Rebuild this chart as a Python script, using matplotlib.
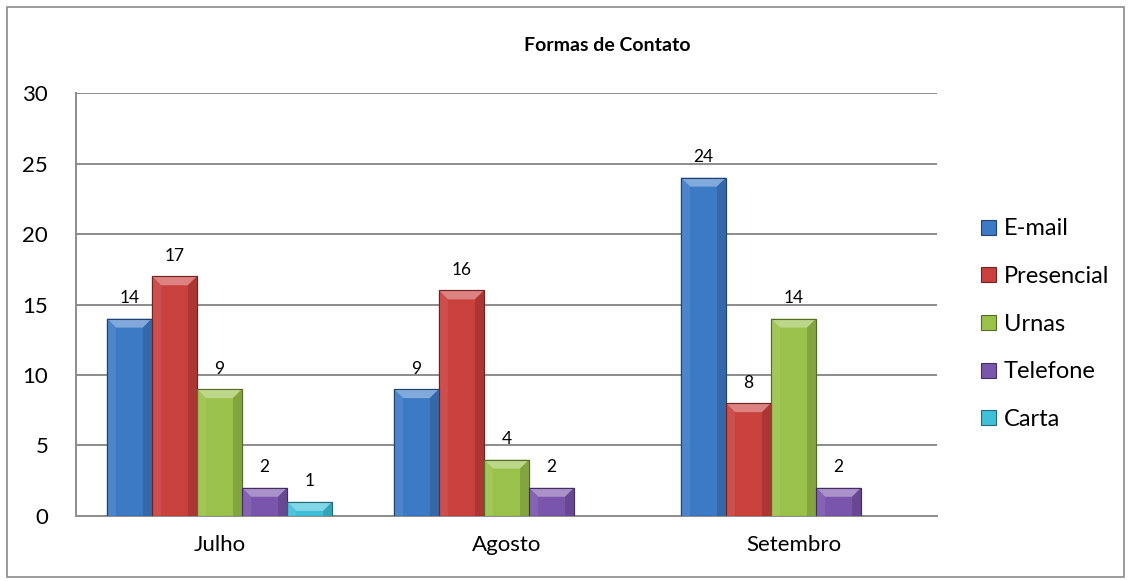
import numpy as np
import matplotlib.pyplot as plt
from matplotlib.patches import Polygon, Rectangle
from matplotlib import colors as mcolors

plt.rcParams['font.family'] = ['Lato', 'DejaVu Sans']

months = ['Julho', 'Agosto', 'Setembro']
series_names = ['E-mail', 'Presencial', 'Urnas', 'Telefone', 'Carta']
email = [14, 9, 24]
presencial = [17, 16, 8]
urnas = [9, 4, 14]
telefone = [2, 2, 2]
carta = [1, np.nan, np.nan]
yticks = [0, 5, 10, 15, 20, 25, 30]

values = [email, presencial, urnas, telefone, carta]
bar_colors = ['#3d7ac6', '#c9403d', '#9ac24b', '#7a55ac', '#3fc0d8']


def shade(c, amount):
    # amount > 0 lightens, < 0 darkens
    rgb = np.array(mcolors.to_rgb(c))
    if amount > 0:
        rgb = rgb + (1 - rgb) * amount
    else:
        rgb = rgb * (1 + amount)
    return tuple(rgb)


fig = plt.figure(figsize=(11.31, 5.81), dpi=100)
ax = fig.add_axes([0.0672, 0.1119, 0.7613, 0.728])

# outer chart border
fig.patches.append(Rectangle((0.006, 0.007), 0.988, 0.981, transform=fig.transFigure,
                             fill=False, edgecolor='#8a8a8a', linewidth=1.2))

x = np.arange(len(months))
w = 0.157
# bevel size in data units (about 9 px)
dx = 9 / (0.7613 * 1131 / 3)
dy = 9 / (0.728 * 581 / 30)

for i, (name, vals, col) in enumerate(zip(series_names, values, bar_colors)):
    pos = x + (i - 2) * w
    bars = ax.bar(pos, vals, width=w, color=col, edgecolor=shade(col, -0.45),
                  linewidth=0.8, label=name, zorder=3)
    for rect, v in zip(bars, vals):
        if np.isnan(v):
            continue
        x0 = rect.get_x()
        h = rect.get_height()
        # top bevel
        ax.add_patch(Polygon([(x0, h), (x0 + w, h), (x0 + w - dx, h - dy), (x0 + dx, h - dy)],
                             closed=True, facecolor=shade(col, 0.35), edgecolor='none', zorder=4))
        # side bevels
        ax.add_patch(Polygon([(x0, h), (x0 + dx, h - dy), (x0 + dx, 0), (x0, 0)],
                             closed=True, facecolor=shade(col, 0.08), edgecolor='none', zorder=4))
        ax.add_patch(Polygon([(x0 + w, h), (x0 + w - dx, h - dy), (x0 + w - dx, 0), (x0 + w, 0)],
                             closed=True, facecolor=shade(col, -0.15), edgecolor='none', zorder=4))
        ax.add_patch(Rectangle((x0, 0), w, h, fill=False, edgecolor=shade(col, -0.45),
                               linewidth=0.8, zorder=5))
        ax.annotate(f'{int(v)}', (rect.get_x() + w / 2, h), xytext=(0, 9),
                    textcoords='offset points', ha='center', va='bottom', fontsize=12.5)

ax.set_xlim(-0.5, 2.5)
ax.set_ylim(0, 30)
ax.set_yticks(yticks)
ax.set_xticks(x)
ax.set_xticklabels(months)
ax.tick_params(axis='both', length=0, labelsize=16)
ax.tick_params(axis='y', pad=20)
ax.tick_params(axis='x', pad=14)
ax.grid(axis='y', color='#8c8c8c', linewidth=1.4, zorder=0)
for s in ['top', 'right']:
    ax.spines[s].set_visible(False)
for s in ['left', 'bottom']:
    ax.spines[s].set_color('#8c8c8c')
    ax.spines[s].set_linewidth(1.4)

fig.text(0.5366, 0.921, 'Formas de Contato', ha='center', va='center',
         fontsize=14, fontweight='bold')

fig.legend(loc='center left', bbox_to_anchor=(0.849, 0.442), frameon=False,
           fontsize=17, handlelength=0.6, handleheight=0.6, handletextpad=0.35,
           labelspacing=1.13)

fig.savefig('out.png', dpi=100)
